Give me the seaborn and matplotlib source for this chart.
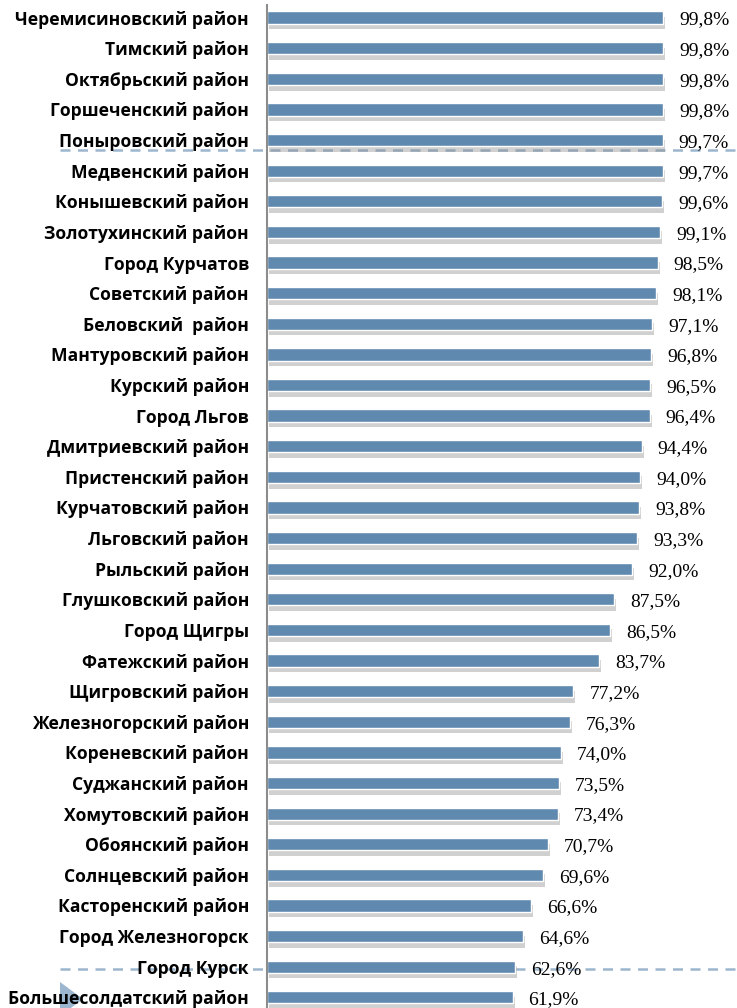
import matplotlib
matplotlib.use("Agg")
import matplotlib.pyplot as plt
import matplotlib.patheffects as pe
from matplotlib.lines import Line2D
from matplotlib.patches import Polygon
import seaborn as sns
import pandas as pd

# данные
districts = [
    "Черемисиновский район", "Тимский район", "Октябрьский район", "Горшеченский район",
    "Поныровский район", "Медвенский район", "Конышевский район", "Золотухинский район",
    "Город Курчатов", "Советский район", "Беловский  район", "Мантуровский район",
    "Курский район", "Город Льгов", "Дмитриевский район", "Пристенский район",
    "Курчатовский район", "Льговский район", "Рыльский район", "Глушковский район",
    "Город Щигры", "Фатежский район", "Щигровский район", "Железногорский район",
    "Кореневский район", "Суджанский район", "Хомутовский район", "Обоянский район",
    "Солнцевский район", "Касторенский район", "Город Железногорск", "Город Курск",
    "Большесолдатский район",
]
shares = [
    99.8, 99.8, 99.8, 99.8, 99.7, 99.7, 99.6, 99.1, 98.5, 98.1, 97.1, 96.8,
    96.5, 96.4, 94.4, 94.0, 93.8, 93.3, 92.0, 87.5, 86.5, 83.7, 77.2, 76.3,
    74.0, 73.5, 73.4, 70.7, 69.6, 66.6, 64.6, 62.6, 61.9,
]

df = pd.DataFrame({"district": districts, "share": shares})

W, H = 737, 1008
BAR_COLOR = "#6089B0"
DASH_COLOR = "#9DB6CF"

sns.set_style("white")
fig = plt.figure(figsize=(W / 100, H / 100), dpi=100)

n = len(districts)
ax_left, ax_right = 267 / W, 1.0
ax_top_px, ax_bot_px = 5, H
ax = fig.add_axes([ax_left, 1 - ax_bot_px / H, ax_right - ax_left, (ax_bot_px - ax_top_px) / H])
ax.patch.set_alpha(0)

sns.barplot(data=df, x="share", y="district", orient="h", color=BAR_COLOR,
            width=0.40, edgecolor="white", linewidth=1.0, saturation=1, ax=ax)

# тень под столбцами
for p in ax.patches:
    p.set_path_effects([
        pe.SimplePatchShadow(offset=(1.5, -4), shadow_rgbFace="#8a8a8a", alpha=0.4),
        pe.Normal(),
    ])

px_per_unit = (663 - 267) / 99.8
ax.set_xlim(0, (W - 267) / px_per_unit)
spacing = (997 - 18) / (n - 2)
ax.set_ylim(n - 1 + (H - 997) / spacing, -(18 - ax_top_px) / spacing)

ax.set_xlabel("")
ax.set_ylabel("")
ax.set_xticks([])
ax.tick_params(axis="y", length=0, pad=13, labelcolor="black")
ax.set_yticks(range(n))
ax.set_yticklabels(districts, fontfamily="Open Sans", fontweight="bold", fontsize=12.6)
for lbl in ax.get_yticklabels():
    lbl.set_va("center_baseline")
for s in ["top", "right", "bottom"]:
    ax.spines[s].set_visible(False)
ax.spines["left"].set_color("#8c8c8c")
ax.spines["left"].set_linewidth(1.5)

# подписи значений
for i, v in enumerate(shares):
    ax.text(v + 16 / px_per_unit, i + 0.08, f"{v:.1f}%".replace(".", ","),
            va="center", ha="left", fontfamily="Liberation Serif", fontsize=14,
            color="black")

# декоративные пунктирные линии и треугольник (за графиком)
for ypx in (150, 969):
    fig.add_artist(Line2D([60 / W, 1.0], [1 - ypx / H, 1 - ypx / H],
                          transform=fig.transFigure, color=DASH_COLOR,
                          linestyle=(0, (4, 3)), linewidth=1.8, zorder=-1))
tri = Polygon([(60 / W, 1 - 982 / H), (83 / W, 1 - 999 / H), (60 / W, 1 - 1016 / H)],
              closed=True, transform=fig.transFigure, facecolor="#9DB6CF",
              edgecolor="none", zorder=-1)
fig.add_artist(tri)

fig.savefig("out.png", dpi=100)
